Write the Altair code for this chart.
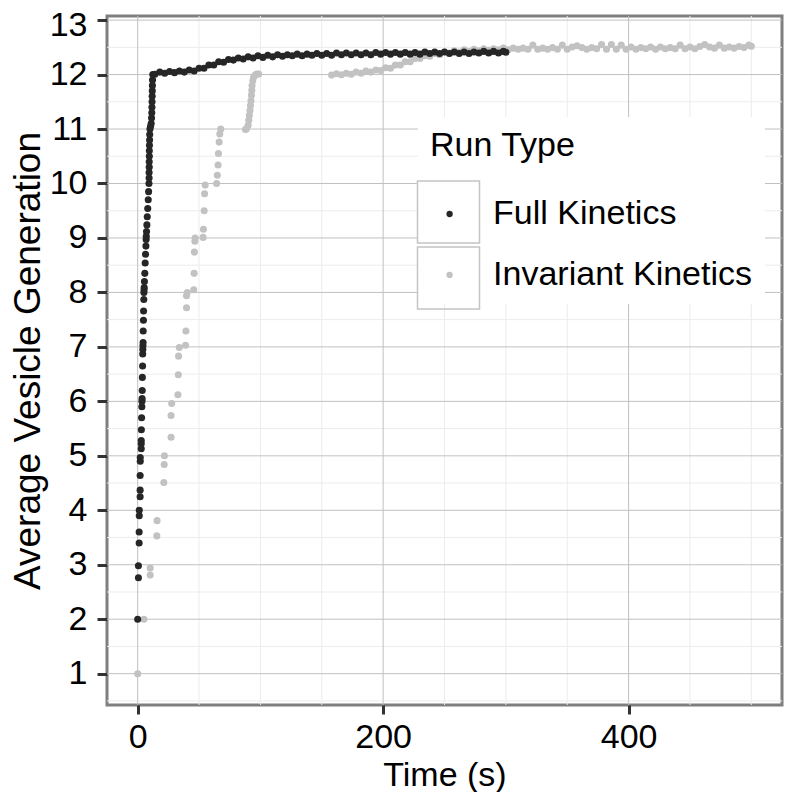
import altair as alt
import pandas as pd

FONT = "Liberation Sans"

run_types = ["Full Kinetics", "Invariant Kinetics"]
run_colors = ["#262626", "#c2c2c2"]
box_keys = ["Full Kinetics.", "Invariant Kinetics."]

x_ticks = [0, 200, 400]
y_ticks = [1, 2, 3, 4, 5, 6, 7, 8, 9, 10, 11, 12, 13]
x_minor = [50, 100, 150, 250, 300, 350, 450, 500]
y_minor = [0.5, 1.5, 2.5, 3.5, 4.5, 5.5, 6.5, 7.5, 8.5, 9.5, 10.5, 11.5, 12.5]

# ---- Full Kinetics ----
full_rise_t = [0.0, 0.6, 0.6, 1.2, 1.2, 1.3, 1.3, 2.0, 2.0, 2.0, 2.1, 2.1,
               2.9, 2.9, 2.9, 3.0, 3.2, 3.4, 3.5, 3.6, 3.7, 3.8,
               4.0, 4.1, 4.2, 4.3, 4.4, 4.5, 4.7, 4.8, 5.0, 5.1, 5.2, 5.3, 5.5, 5.8,
               6.1, 6.4, 6.7, 6.9, 7.0, 7.2, 7.5, 7.8, 8.2, 8.6, 8.9, 9.2]
full_rise_v = [2.0, 2.76, 2.98, 3.40, 3.60, 3.90, 4.00, 4.25, 4.37, 4.64, 4.90, 4.97,
               5.13, 5.22, 5.28, 5.48, 5.70, 5.90, 6.00, 6.05, 6.20, 6.44,
               6.65, 6.87, 6.95, 7.02, 7.08, 7.29, 7.49, 7.66, 7.87, 8.00, 8.05, 8.09, 8.20, 8.35,
               8.54, 8.70, 8.85, 8.97, 9.03, 9.12, 9.24, 9.39, 9.54, 9.70, 9.85, 10.0]
full_top_t = [9.3, 9.3, 9.4, 9.4, 9.5, 9.5, 9.6, 9.7, 9.8, 10.0,
              10.5, 11.0, 11.3, 11.5, 11.6, 11.7, 11.8, 11.9, 12.0, 12.1, 12.3]
full_top_v = [10.1, 10.2, 10.3, 10.4, 10.5, 10.6, 10.7, 10.8, 10.9, 11.0,
              11.05, 11.1, 11.2, 11.3, 11.4, 11.5, 11.6, 11.7, 11.8, 11.9, 12.0]
full_flat_t = [14, 18, 22, 26, 30, 34, 38, 42, 46, 50,
               54, 58, 62, 66, 70, 74, 78, 82, 86, 90,
               94, 98, 102, 106, 110, 114, 118, 122, 126, 130,
               134, 138, 142, 146, 150, 154, 158, 162, 166, 170,
               174, 178, 182, 186, 190, 194, 198, 202, 206, 210,
               214, 218, 222, 226, 230, 234, 238, 242, 246, 250,
               254, 258, 262, 266, 270, 274, 278, 282, 286, 290,
               294, 298, 300]
full_flat_v = [12.005, 12.045, 12.025, 12.055, 12.035, 12.065, 12.045, 12.085, 12.065, 12.115,
               12.115, 12.175, 12.175, 12.235, 12.225, 12.275, 12.265, 12.305, 12.285, 12.325,
               12.305, 12.345, 12.315, 12.355, 12.325, 12.365, 12.335, 12.365, 12.345, 12.375,
               12.345, 12.375, 12.355, 12.385, 12.355, 12.385, 12.355, 12.395, 12.365, 12.395,
               12.365, 12.395, 12.365, 12.395, 12.365, 12.405, 12.375, 12.405, 12.375, 12.405,
               12.375, 12.405, 12.375, 12.405, 12.375, 12.415, 12.385, 12.415, 12.385, 12.415,
               12.385, 12.415, 12.385, 12.415, 12.385, 12.415, 12.395, 12.425, 12.395, 12.425,
               12.395, 12.425, 12.41]

# ---- Invariant Kinetics ----
inv_rise_t = [0.0, 5.1, 10.2, 10.2, 15.6, 15.8, 21.3, 21.6, 21.8, 27.2, 27.2, 27.7,
              32.8, 33.1, 33.3, 33.9, 39.0, 39.3, 39.8, 39.8, 40.4,
              45.7, 46.0, 46.2, 46.6, 46.8, 53.3, 53.6, 54.2, 54.5, 55.0,
              64.3, 64.9, 65.5, 65.8, 66.4, 66.9, 67.7]
inv_rise_v = [1.0, 2.0, 2.81, 2.94, 3.53, 3.81, 4.51, 4.84, 5.0, 5.34, 5.74, 5.96,
              6.12, 6.49, 6.83, 6.99, 7.03, 7.29, 7.72, 7.94, 8.0,
              8.05, 8.35, 8.74, 8.94, 9.0, 9.01, 9.16, 9.5, 9.81, 9.97,
              10.0, 10.15, 10.34, 10.55, 10.76, 10.91, 11.0]
inv_step_t = [87.8, 88.5, 90.0, 90.5, 91.0, 91.5, 91.9, 92.3, 92.7, 93.0,
              93.2, 93.8, 94.5, 95.8, 97.2, 98.6]
inv_step_v = [10.99, 11.0, 11.07, 11.16, 11.25, 11.34, 11.43, 11.52, 11.62, 11.71,
              11.80, 11.88, 11.95, 11.99, 12.01, 12.01]
inv_flat_t = [158, 162, 166, 170, 174, 178, 182, 186, 190, 194,
              198, 202, 206, 210, 214, 218, 222, 226, 230, 234,
              238, 242, 246, 250, 254, 258, 262, 266, 270, 274,
              278, 282, 286, 290, 294, 298, 302, 306, 310, 314,
              318, 322, 326, 330, 334, 338, 342, 346, 350, 354,
              358, 362, 366, 370, 374, 378, 382, 386, 390, 394,
              398, 402, 406, 410, 414, 418, 422, 426, 430, 434,
              438, 442, 446, 450, 454, 458, 462, 466, 470, 474,
              478, 482, 486, 490, 494, 498, 500]
inv_flat_v = [11.99, 12.015, 11.995, 12.025, 12.005, 12.045, 12.025, 12.065, 12.045, 12.085,
              12.075, 12.125, 12.115, 12.175, 12.175, 12.235, 12.235, 12.295, 12.295, 12.345,
              12.335, 12.385, 12.365, 12.415, 12.395, 12.435, 12.415, 12.455, 12.425, 12.465,
              12.435, 12.475, 12.445, 12.475, 12.455, 12.485, 12.455, 12.485, 12.465, 12.485,
              12.465, 12.54, 12.465, 12.485, 12.465, 12.495, 12.465, 12.54, 12.465, 12.505,
              12.53, 12.495, 12.465, 12.495, 12.475, 12.55, 12.465, 12.55, 12.465, 12.54,
              12.465, 12.505, 12.465, 12.495, 12.475, 12.505, 12.465, 12.505, 12.475, 12.495,
              12.475, 12.54, 12.475, 12.505, 12.475, 12.515, 12.55, 12.505, 12.485, 12.54,
              12.485, 12.505, 12.485, 12.515, 12.495, 12.54, 12.52]

full_t = full_rise_t + full_top_t + full_flat_t
full_v = full_rise_v + full_top_v + full_flat_v
inv_t = inv_rise_t + inv_step_t + inv_flat_t
inv_v = inv_rise_v + inv_step_v + inv_flat_v

df = pd.DataFrame({
    "t": inv_t + full_t,
    "v": inv_v + full_v,
    "run": [run_types[1]] * len(inv_t) + [run_types[0]] * len(full_t),
})

x_scale = alt.Scale(domain=[-25, 525], nice=False, zero=False)
y_scale = alt.Scale(domain=[0.425, 13.075], nice=False, zero=False)

x_axis = alt.Axis(values=x_ticks, title="Time (s)", tickSize=9, labelPadding=6, titlePadding=4)
y_axis = alt.Axis(values=y_ticks, title="Average Vesicle Generation", tickSize=10,
                  labelPadding=10, titlePadding=2, titleFontSize=37,
                  labelOffset={"condition": {"test": "datum.value === 13", "value": 5}, "value": 0})


def vrules(vals, color):
    return alt.Chart(pd.DataFrame({"g": vals})).mark_rule(color=color, strokeWidth=1).encode(
        x=alt.X("g:Q", scale=x_scale, axis=x_axis))


def hrules(vals, color):
    return alt.Chart(pd.DataFrame({"g": vals})).mark_rule(color=color, strokeWidth=1).encode(
        y=alt.Y("g:Q", scale=y_scale, axis=y_axis))


MINOR = "#ececec"
MAJOR = "#c0c0c0"

points = alt.Chart(df).mark_circle(size=50, opacity=1).encode(
    x=alt.X("t:Q", scale=x_scale, axis=x_axis),
    y=alt.Y("v:Q", scale=y_scale, axis=y_axis),
    color=alt.Color("run:N", scale=alt.Scale(domain=run_types, range=run_colors),
                    legend=alt.Legend(
                        title="Run Type", orient="none", legendX=311, legendY=101, padding=12,
                        fillColor="white",
                        titleFontSize=34, titleFont=FONT, titleFontWeight="normal", titleColor="black",
                        titlePadding=34, titleLimit=500,
                        labelFontSize=34, labelFont=FONT, labelColor="black", labelLimit=500,
                        labelOffset=26.5, symbolType="circle", symbolSize=40, symbolOffset=2.6,
                        rowPadding=27)),
)

boxes = alt.Chart(df).transform_filter("false").mark_point(
    shape="square", filled=False, color="#c4c4c4", strokeWidth=3, opacity=1
).encode(
    shape=alt.Shape("run:N", scale=alt.Scale(domain=box_keys, range=["square", "square"]),
                    legend=alt.Legend(
                        title=None, orient="none", legendX=309.5, legendY=164, padding=0,
                        labelFontSize=34, labelFont=FONT, labelExpr="''", labelLimit=500,
                        symbolSize=3844, symbolType="square", rowPadding=-3))
)

chart = alt.layer(
    vrules(x_minor, MINOR), hrules(y_minor, MINOR),
    vrules(x_ticks, MAJOR), hrules(y_ticks, MAJOR),
    points, boxes,
).properties(
    width=675, height=689,
    padding={"left": 99, "top": 8, "right": 2, "bottom": 87},
    autosize="none",
).configure(font=FONT).configure_view(
    stroke="#7f7f7f", strokeWidth=3, fill="white"
).configure_axis(
    domain=False, grid=False, labelFont=FONT, labelFontSize=34, labelColor="black",
    tickColor="#333333", tickWidth=3, titleFont=FONT, titleFontSize=34,
    titleFontWeight="normal", titleColor="black",
)

chart.save("out.html", embed_options={"renderer": "svg", "actions": False})
